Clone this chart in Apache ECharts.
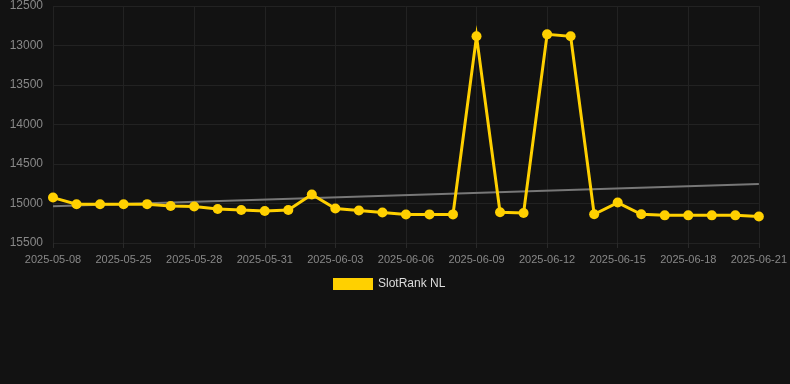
<!DOCTYPE html>
<html>
<head>
<meta charset="utf-8">
<script src="https://cdn.jsdelivr.net/npm/echarts@6/dist/echarts.min.js"></script>
<style>
html,body{margin:0;padding:0;background:#121212;}
#c{width:790px;height:384px;}
</style>
</head>
<body>
<div id="c"></div>
<script>
const categories = ["2025-05-08","2025-05-23","2025-05-24","2025-05-25","2025-05-26","2025-05-27","2025-05-28","2025-05-29","2025-05-30","2025-05-31","2025-06-01","2025-06-02","2025-06-03","2025-06-04","2025-06-05","2025-06-06","2025-06-07","2025-06-08","2025-06-09","2025-06-10","2025-06-11","2025-06-12","2025-06-13","2025-06-14","2025-06-15","2025-06-16","2025-06-17","2025-06-18","2025-06-19","2025-06-20","2025-06-21"];
const rankValues = [14925,15010,15010,15010,15008,15031,15039,15069,15082,15094,15082,14887,15064,15089,15115,15140,15138,15138,12884,15111,15120,12859,12884,15136,14988,15136,15150,15150,15150,15150,15165];
const seriesName = "SlotRank NL";
const trendStart = 15035;
const trendEnd = 14752;
const yTicks = {min:12500, max:15500, interval:500};

const trend = categories.map((c,i)=> i===0 ? trendStart : (i===categories.length-1 ? trendEnd : null));

const chart = echarts.init(document.getElementById('c'));
chart.setOption({
  backgroundColor:'#121212',
  animation:false,
  grid:{left:53,right:27,top:6,bottom:141},
  legend:{
    data:[seriesName],
    top:273,
    left:328,
    itemWidth:40,
    itemHeight:12,
    itemGap:10,
    icon:'rect',
    textStyle:{color:'#dddddd',fontSize:12,fontFamily:'Arial, Liberation Sans, sans-serif'}
  },
  xAxis:{
    type:'category',
    data:categories,
    boundaryGap:false,
    axisLine:{show:false},
    axisTick:{show:true,interval:2,length:5,lineStyle:{color:'#2a2a2a'}},
    axisLabel:{interval:2,color:'#888888',fontSize:11,margin:11,fontFamily:'Arial, Liberation Sans, sans-serif'},
    splitLine:{show:true,interval:2,lineStyle:{color:'#222222'}}
  },
  yAxis:{
    type:'value',
    inverse:true,
    min:yTicks.min,max:yTicks.max,interval:yTicks.interval,
    axisLine:{show:false},
    axisTick:{show:false},
    axisLabel:{color:'#888888',fontSize:12,margin:10,formatter:v=>String(v),fontFamily:'Arial, Liberation Sans, sans-serif'},
    splitLine:{lineStyle:{color:'#222222'}}
  },
  series:[
    {
      name:'trend',
      type:'line',
      data:trend,
      connectNulls:true,
      symbol:'none',
      lineStyle:{color:'#777777',width:2},
      z:1,
      silent:true
    },
    {
      name:seriesName,
      type:'line',
      data:rankValues,
      symbol:'circle',
      symbolSize:10,
      itemStyle:{color:'#FFD000'},
      lineStyle:{color:'#FFD000',width:3,join:'miter',miterLimit:10},
      z:2
    }
  ]
});
</script>
</body>
</html>
